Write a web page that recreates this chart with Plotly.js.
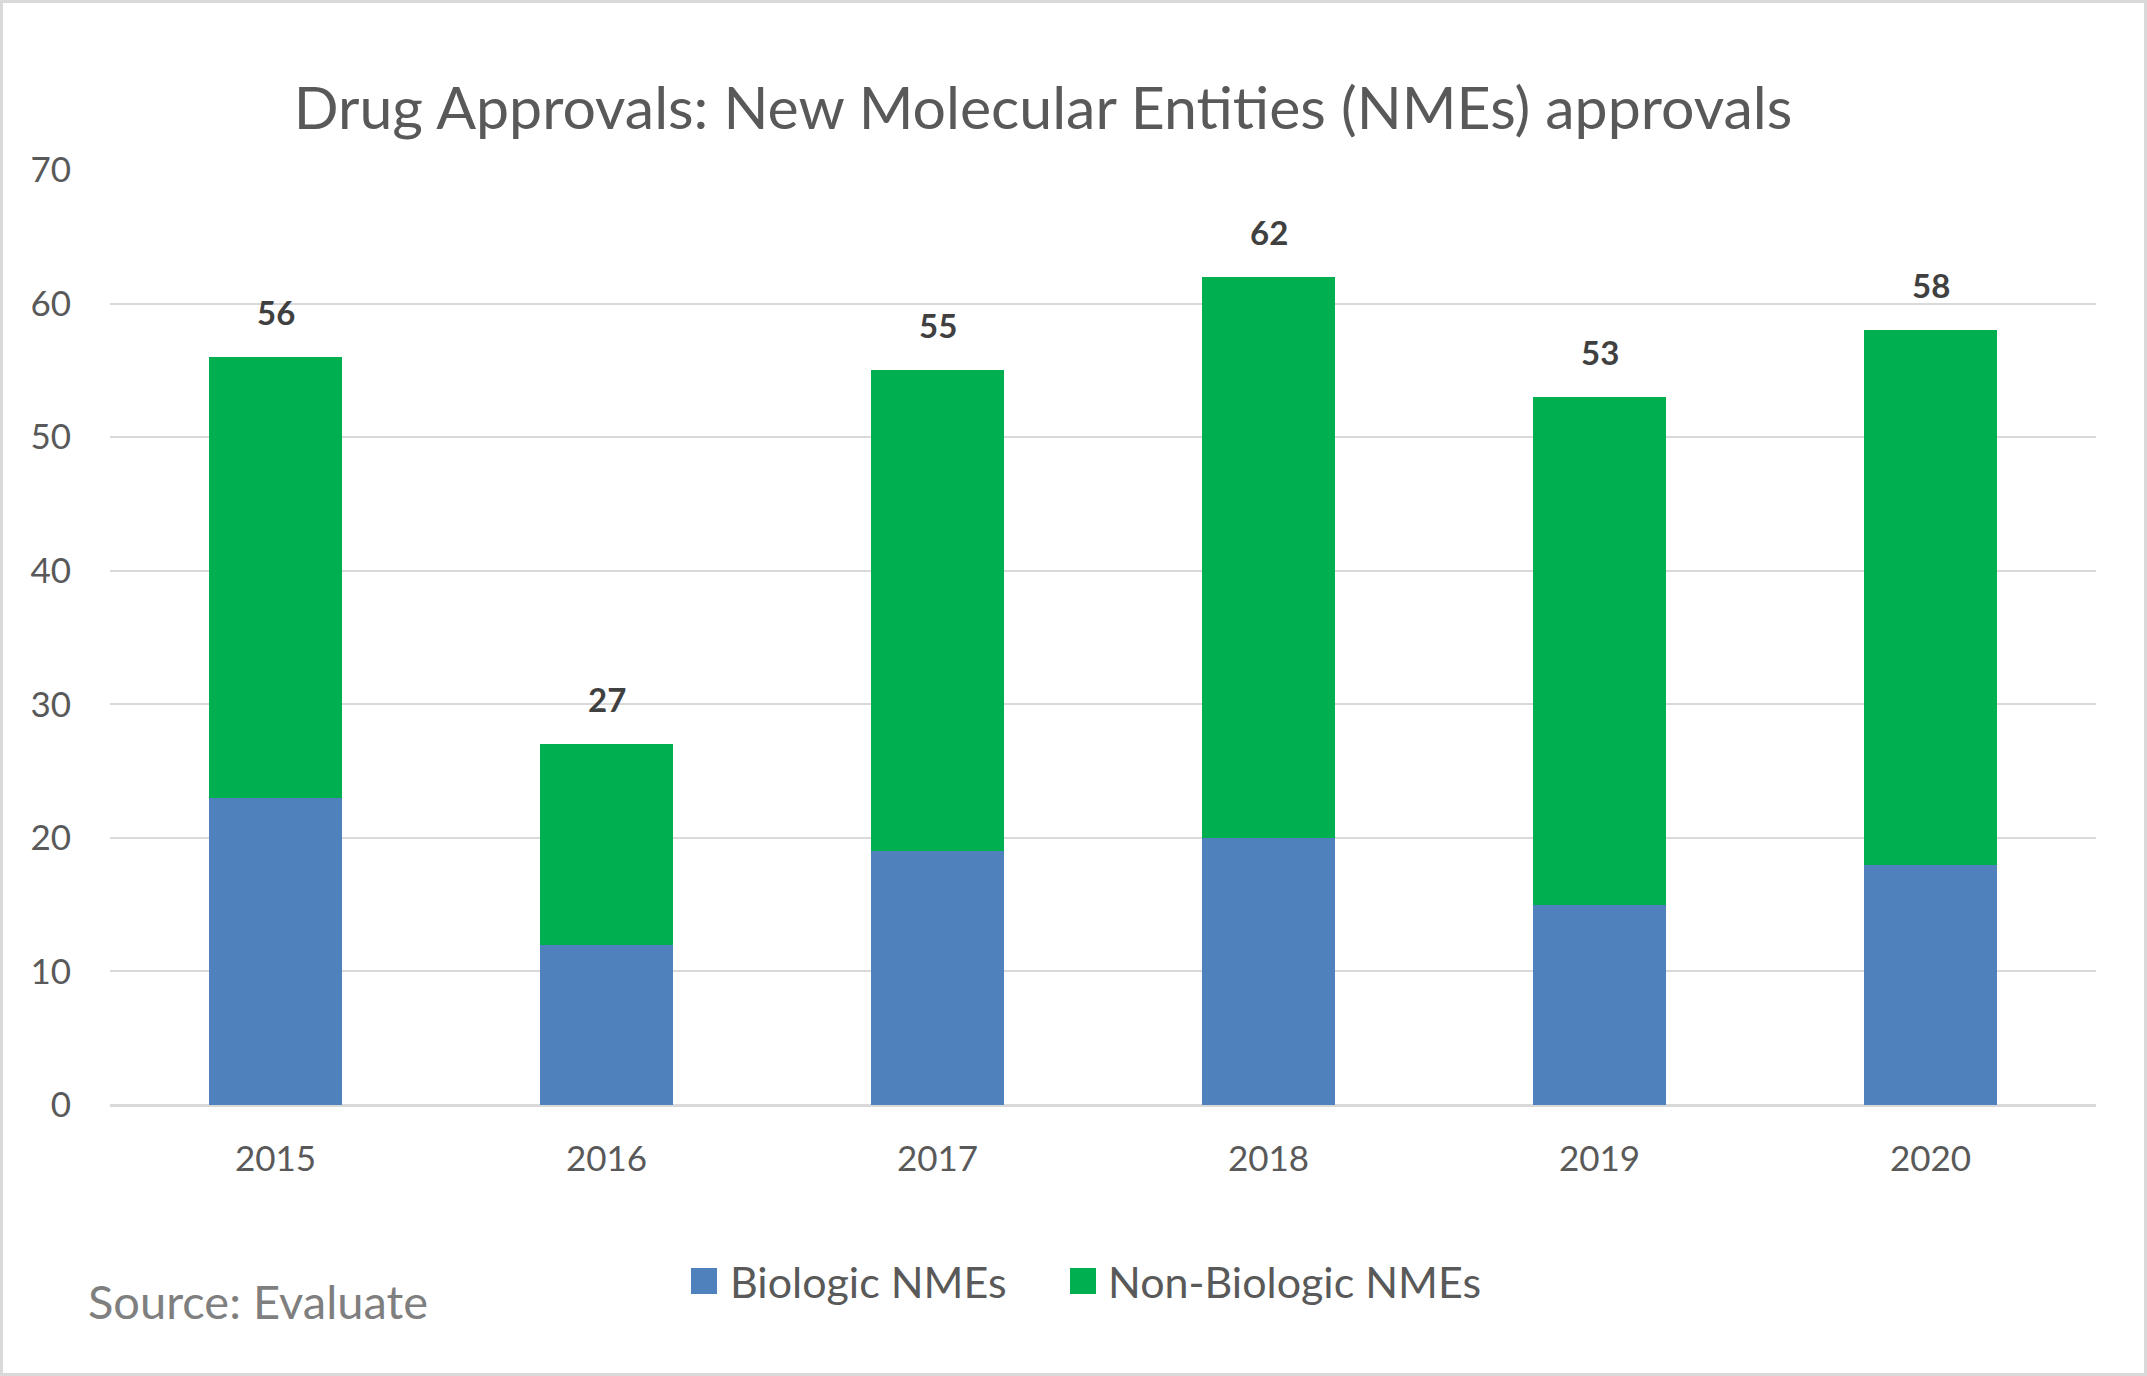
<!DOCTYPE html>
<html>
<head>
<meta charset="utf-8">
<script src="https://cdn.plot.ly/plotly-3.0.1.min.js"></script>
<style>
html, body { margin: 0; padding: 0; background: #ffffff; }
#chart { width: 2147px; height: 1376px; }
</style>
</head>
<body>
<div id="chart"></div>
<script>
// ---- data ----
const years = ["2015", "2016", "2017", "2018", "2019", "2020"];
const biologic = [23, 12, 19, 20, 15, 18];
const nonBiologic = [33, 15, 36, 42, 38, 40];
const seriesNames = ["Biologic NMEs", "Non-Biologic NMEs"];
const yTickVals = [0, 10, 20, 30, 40, 50, 60, 70];
const chartTitle = "Drug Approvals: New Molecular Entities (NMEs) approvals";
const sourceText = "Source: Evaluate";

// ---- geometry ----
const W = 2147, H = 1376;
const L = 110, R = 51, T = 170, B = 271;
const PW = W - L - R, PH = H - T - B;
const px = x => (x - L) / PW;
const py = y => (H - B - y) / PH;

const BLUE = "#4F81BD", GREEN = "#00B050";
const FONT = "Lato, 'Open Sans', sans-serif";

const totals = years.map((_, i) => biologic[i] + nonBiologic[i]);

const traces = [
  { type: "bar", name: seriesNames[0], x: years, y: biologic,
    marker: { color: BLUE }, showlegend: false, hoverinfo: "x+y+name" },
  { type: "bar", name: seriesNames[1], x: years, y: nonBiologic,
    marker: { color: GREEN }, showlegend: false, hoverinfo: "x+y+name" }
];

// total labels above each stack (x as category index)
const annotations = years.map((yr, i) => ({
  x: i, y: totals[i], xref: "x", yref: "y",
  text: String(totals[i]), showarrow: false,
  yanchor: "middle", yshift: 45,
  font: { family: FONT, size: 33, color: "#404040", weight: 700 }
}));

// custom legend (large swatches) + source
const legendItems = [
  { name: seriesNames[0], color: BLUE, sq: 691, tx: 728 },
  { name: seriesNames[1], color: GREEN, sq: 1070, tx: 1106 }
];
const shapes = [];
legendItems.forEach(it => {
  shapes.push({ type: "rect", xref: "paper", yref: "paper",
    x0: px(it.sq), x1: px(it.sq + 26), y0: py(1294), y1: py(1268),
    fillcolor: it.color, line: { width: 0 } });
  annotations.push({ xref: "paper", yref: "paper", x: px(it.tx), y: py(1281),
    xanchor: "left", yanchor: "middle", showarrow: false, text: it.name,
    font: { family: FONT, size: 43, color: "#595959" } });
});
annotations.push({ xref: "paper", yref: "paper", x: px(86), y: py(1301),
  xanchor: "left", yanchor: "middle", showarrow: false, text: sourceText,
  font: { family: FONT, size: 47, color: "#7f7f7f" } });
// outer frame
shapes.push({ type: "rect", xref: "paper", yref: "paper",
  x0: px(1.5), x1: px(W - 1.5), y0: py(H - 1.5), y1: py(1.5),
  line: { color: "#d9d9d9", width: 3 }, fillcolor: "rgba(0,0,0,0)", layer: "below" });

const layout = {
  width: W, height: H,
  margin: { l: L, r: R, t: T, b: B, pad: 0 },
  paper_bgcolor: "#ffffff", plot_bgcolor: "#ffffff",
  barmode: "stack", bargap: 0.598,
  showlegend: false,
  title: { text: chartTitle, x: 1043 / W, xanchor: "center", y: 1 - 108 / H, yanchor: "middle",
    yref: "container", font: { family: FONT, size: 59, color: "#595959" } },
  xaxis: { type: "category", range: [-0.5, years.length - 0.5], autorange: false,
    showgrid: false, showline: false, zeroline: false, ticks: "",
    tickfont: { family: FONT, size: 35, color: "#595959" }, ticklabelstandoff: 30,
    fixedrange: true },
  yaxis: { range: [0, 70], autorange: false, tickvals: yTickVals, showgrid: true, gridcolor: "#d9d9d9", gridwidth: 2,
    zeroline: true, zerolinecolor: "#d9d9d9", zerolinewidth: 3, showline: false, ticks: "",
    tickfont: { family: FONT, size: 35, color: "#595959" }, ticklabelstandoff: 38,
    fixedrange: true },
  annotations: annotations,
  shapes: shapes,
  font: { family: FONT, color: "#595959" }
};

Plotly.newPlot("chart", traces, layout, { displayModeBar: false, staticPlot: true });
</script>
</body>
</html>
